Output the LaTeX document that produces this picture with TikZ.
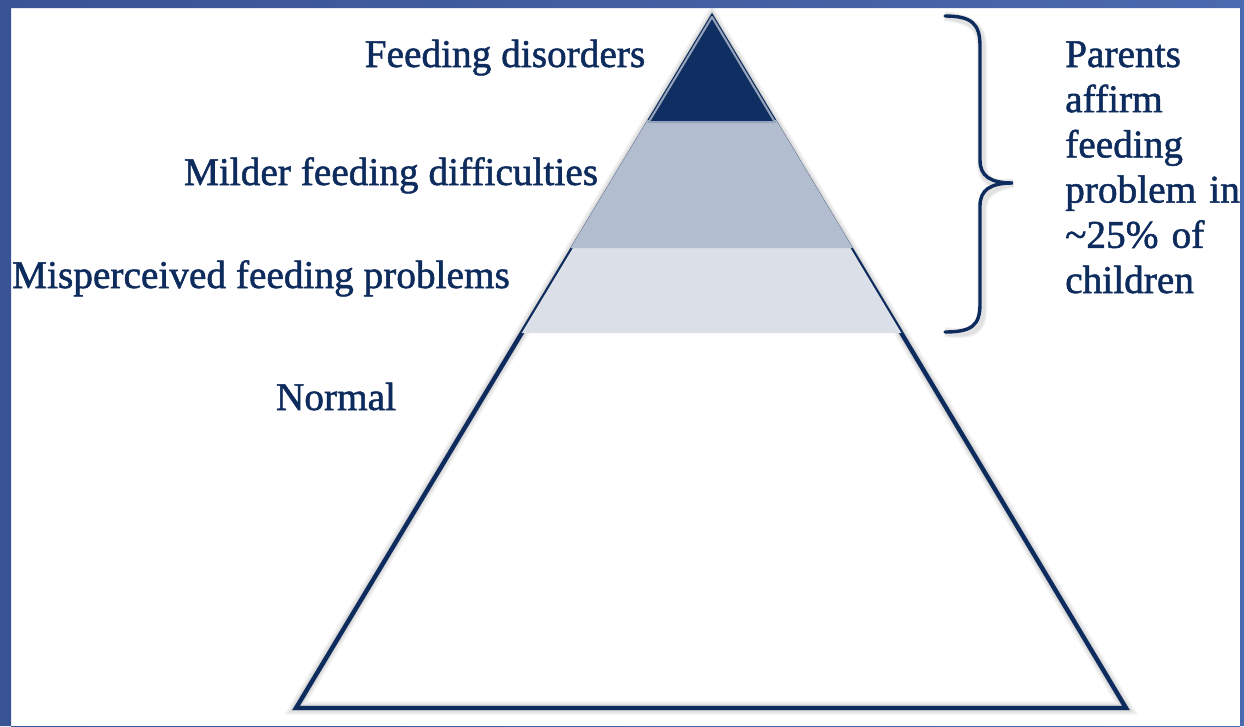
\documentclass[tikz,border=0pt]{standalone}
\usepackage{fontspec}
\setmainfont{Liberation Serif}
\newfontfamily\lblfont[FakeBold=1.3]{Liberation Serif}
\usetikzlibrary{calc}
\definecolor{navy}{HTML}{0D2B5C}
\definecolor{topband}{HTML}{0F2F62}
\definecolor{midband}{HTML}{B2BECF}
\definecolor{lowband}{HTML}{DBE0E8}
\definecolor{rimedge}{HTML}{95A3BB}
\definecolor{frameL}{HTML}{3A5394}
\definecolor{frameR}{HTML}{4B69AE}
\begin{document}
\begin{tikzpicture}[x=1pt,y=-1pt,
  lbl/.style={text=navy, font=\lblfont\fontsize{39.3}{45.2}\selectfont, inner sep=0pt},
  outline/.style={draw=navy, line width=4.4pt, line join=miter},
  softshadow/.style={draw=black, opacity=0.06, line width=#1}]
\useasboundingbox (0,0) rectangle (1244,726);
\fill[white] (0,0) rectangle (1244,726);

% pyramid corners
\coordinate (apex) at (712,17);
\coordinate (bl) at (296,708);
\coordinate (br) at (1126,708);
% band boundaries along the two sides
\coordinate (l1) at ($(apex)!0.152!(bl)$);
\coordinate (r1) at ($(apex)!0.152!(br)$);
\coordinate (l2) at ($(apex)!0.3314!(bl)$);
\coordinate (r2) at ($(apex)!0.3314!(br)$);
\coordinate (l3) at ($(apex)!0.4573!(bl)$);
\coordinate (r3) at ($(apex)!0.4573!(br)$);

% soft drop shadow under the outline
\foreach \w in {13,9,6}
  \draw[softshadow=\w pt, shift={(2,5)}] (apex) -- (bl) -- (br) -- cycle;

% outline of the pyramid
\draw[outline] (apex) -- (bl) -- (br) -- cycle;

% coloured layers
\fill[lowband] (l2) -- (l3) -- (r3) -- (r2) -- cycle;
\filldraw[fill=midband, draw=midband, line width=4pt] (l1) -- (l2) -- (r2) -- (r1) -- cycle;
\filldraw[fill=topband, draw=rimedge, line width=2pt, line join=round] (apex) -- (l1) -- (r1) -- cycle;

% labels of the layers
\node[lbl, anchor=base] (disorders) at (505,67) {Feeding disorders};
\node[lbl, anchor=base] (milder) at (391,185) {Milder feeding difficulties};
\node[lbl, anchor=base] (misperceived) at (261,288) {Misperceived feeding problems};
\node[lbl, anchor=base] (normal) at (336,410) {Normal};

% brace over the three upper layers
\coordinate (btop) at (945,16);
\coordinate (btip) at (1013,183);
\coordinate (bbot) at (945,332);
\foreach \w in {10,7}
  \draw[softshadow=\w pt, shift={(2,4)}]
    (btop) .. controls (972,16) and (980,24) .. (980,46) -- (980,160)
    .. controls (980,176) and (990,183) .. (btip)
    .. controls (990,183) and (980,190) .. (980,206) -- (980,304)
    .. controls (980,325) and (972,332) .. (bbot);
\draw[navy, line width=3.4pt, line cap=round]
    (btop) .. controls (972,16) and (980,24) .. (980,46) -- (980,160)
    .. controls (980,176) and (990,183) .. (btip)
    .. controls (990,183) and (980,190) .. (980,206) -- (980,304)
    .. controls (980,325) and (972,332) .. (bbot);

\node[lbl, anchor=base west, text width=200pt, align=left] (parents) at (1065,67)
  {Parents\\affirm\\feeding\\problem in\\\textasciitilde25\% of\\children};

% blue frame around the panel
\shade[left color=frameL, right color=frameR, even odd rule]
  (0,0) rectangle (1244,726) (11,8) rectangle (1240,727);
\end{tikzpicture}
\end{document}
